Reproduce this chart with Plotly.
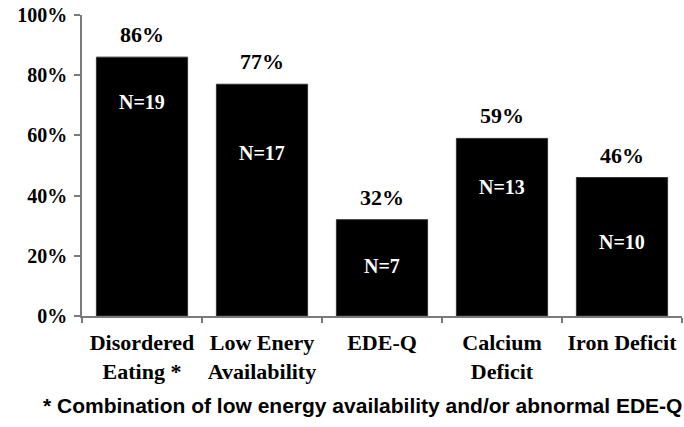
import plotly.graph_objects as go

# Prevalence of each condition among the athletes studied
categories = ["Disordered<br>Eating *", "Low Enery<br>Availability", "EDE-Q",
              "Calcium<br>Deficit", "Iron Deficit"]
percent = [86, 77, 32, 59, 46]
counts = [19, 17, 7, 13, 10]
# height (in % units) at which each N label sits inside its bar
n_label_y = [71, 54, 16.5, 43, 24.5]
y_ticks = [0, 20, 40, 60, 80, 100]

SERIF = "Times New Roman, serif"
SANS = "Liberation Sans, Arial, sans-serif"

fig = go.Figure()
fig.add_trace(go.Bar(
    x=categories, y=percent,
    marker=dict(color="black", line=dict(color="#333333", width=1)),
    width=0.76, hoverinfo="skip",
))

annotations = []
for cat, p, n, ny in zip(categories, percent, counts, n_label_y):
    annotations.append(dict(
        x=cat, y=p, xref="x", yref="y", text=f"<b>{p}%</b>", showarrow=False,
        yanchor="bottom", yshift=8,
        font=dict(family=SERIF, size=22, color="black"),
    ))
    annotations.append(dict(
        x=cat, y=ny, xref="x", yref="y", text=f"<b>N={n}</b>", showarrow=False,
        yanchor="middle", font=dict(family=SERIF, size=20, color="white"),
    ))
# footnote below the category labels
annotations.append(dict(
    x=(362 - 82) / 600, y=-(406 - 316.5) / 301.5, xref="paper", yref="paper",
    xanchor="center", yanchor="middle", showarrow=False,
    text="<b>* Combination of low energy availability and/or abnormal EDE-Q</b>",
    font=dict(family=SANS, size=21, color="black"),
))

fig.update_layout(
    width=684, height=427,
    margin=dict(l=82, r=2, t=15, b=110.5),
    paper_bgcolor="white", plot_bgcolor="white",
    showlegend=False, bargap=0.24,
    annotations=annotations,
    xaxis=dict(
        tickvals=categories, ticktext=[f"<b>{c}</b>" for c in categories],
        showline=True, linecolor="#7a7a7a", linewidth=1.5,
        ticks="outside", tickson="boundaries", ticklen=5, tickcolor="#7a7a7a",
        tickwidth=1.5, ticklabelstandoff=6,
        tickfont=dict(family=SERIF, size=22, color="black"),
        showgrid=False, zeroline=False,
    ),
    yaxis=dict(
        range=[0, 100], tickvals=y_ticks,
        ticktext=[f"<b>{v}%</b>" for v in y_ticks],
        showline=True, linecolor="#7a7a7a", linewidth=1.5,
        ticks="outside", ticklen=6, tickcolor="#7a7a7a", tickwidth=1.5,
        ticklabelstandoff=3,
        tickfont=dict(family=SERIF, size=20, color="black"),
        showgrid=False, zeroline=False,
    ),
)

fig.write_html("out.html")
